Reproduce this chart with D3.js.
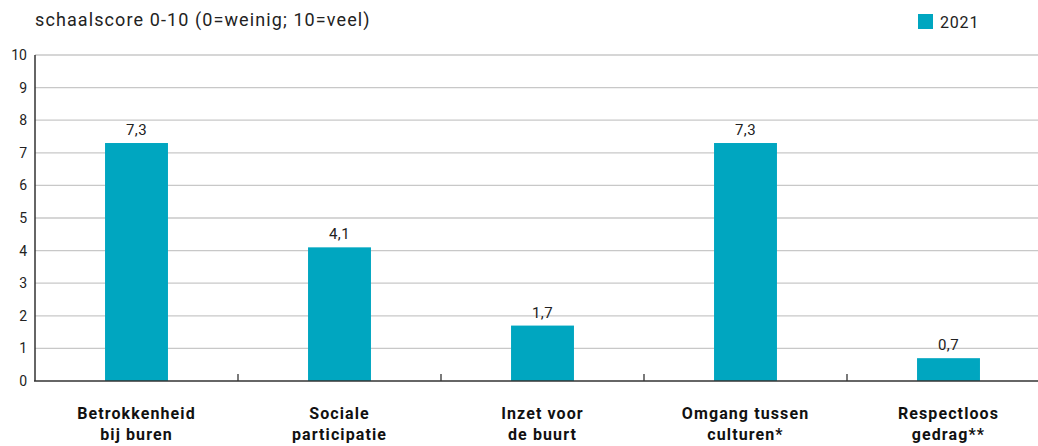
<!DOCTYPE html>
<html>
<head>
<meta charset="utf-8">
<script src="https://cdn.jsdelivr.net/npm/d3@7"></script>
<style>
body { margin: 0; background: #fff; }
svg { font-family: Roboto, "Liberation Sans", sans-serif; }
.grid line { stroke: #c8c8c8; stroke-width: 1.3; }
</style>
</head>
<body>
<svg width="1038" height="446"></svg>
<script>
const categories = [["Betrokkenheid", "bij buren"], ["Sociale", "participatie"], ["Inzet voor", "de buurt"], ["Omgang tussen", "culturen*"], ["Respectloos", "gedrag**"]];
const values2021 = [7.3, 4.1, 1.7, 7.3, 0.7];
const yTicks = [0, 1, 2, 3, 4, 5, 6, 7, 8, 9, 10];

const svg = d3.select("svg");
const color = "#00a6c0";

const x = d3.scaleBand().domain(d3.range(categories.length)).range([35, 1050]).paddingInner(0.69).paddingOuter(0.345);
const y = d3.scaleLinear().domain([0, 10]).range([381, 55]);

// grid
svg.append("g").attr("class", "grid")
	.selectAll("line").data(yTicks.filter(d => d > 0)).enter()
	.append("line")
	.attr("x1", 35).attr("x2", 1038)
	.attr("y1", d => y(d)).attr("y2", d => y(d));

// y labels
svg.append("g").selectAll("text").data(yTicks).enter()
	.append("text")
	.attr("x", 27).attr("y", d => y(d) + 5)
	.attr("text-anchor", "end")
	.attr("font-size", 14).attr("fill", "#222")
	.text(d => d);

// bars
svg.append("g").selectAll("rect").data(values2021).enter()
	.append("rect")
	.attr("x", (d, i) => x(i))
	.attr("width", x.bandwidth())
	.attr("y", d => y(d))
	.attr("height", d => y(0) - y(d))
	.attr("fill", color);

// value labels
svg.append("g").selectAll("text").data(values2021).enter()
	.append("text")
	.attr("x", (d, i) => x(i) + x.bandwidth() / 2)
	.attr("y", d => y(d) - 8)
	.attr("text-anchor", "middle")
	.attr("font-size", 15).attr("letter-spacing", 0.4).attr("fill", "#222")
	.text(d => d3.format(".1f")(d).replace(".", ","));

// axes lines
svg.append("line").attr("x1", 35).attr("x2", 35).attr("y1", y(10)).attr("y2", y(0))
	.attr("stroke", "#333").attr("stroke-width", 1.5);
svg.append("line").attr("x1", 34).attr("x2", 1038).attr("y1", y(0)).attr("y2", y(0))
	.attr("stroke", "#333").attr("stroke-width", 1.5);

// category separators
const step = x.step();
svg.append("g").selectAll("line").data(d3.range(1, categories.length)).enter()
	.append("line")
	.attr("x1", i => x(i) - (step - x.bandwidth()) / 2)
	.attr("x2", i => x(i) - (step - x.bandwidth()) / 2)
	.attr("y1", y(0) - 7).attr("y2", y(0))
	.attr("stroke", "#333").attr("stroke-width", 1.3);

// category labels
const cat = svg.append("g").selectAll("text").data(categories).enter()
	.append("text")
	.attr("x", (d, i) => x(i) + x.bandwidth() / 2)
	.attr("y", 419)
	.attr("text-anchor", "middle")
	.attr("font-size", 16).attr("letter-spacing", 1.1).attr("font-weight", "bold").attr("fill", "#111");
cat.selectAll("tspan").data(d => d).enter()
	.append("tspan")
	.attr("x", function() { return this.parentNode.getAttribute("x"); })
	.attr("dy", (d, i) => i == 0 ? 0 : 21)
	.text(d => d);

// title
svg.append("text").attr("x", 35).attr("y", 26)
	.attr("font-size", 18).attr("letter-spacing", 1.1).attr("fill", "#222")
	.text("schaalscore 0-10 (0=weinig; 10=veel)");

// legend
svg.append("rect").attr("x", 918).attr("y", 14).attr("width", 15).attr("height", 15).attr("fill", color);
svg.append("text").attr("x", 940).attr("y", 28).attr("font-size", 16).attr("letter-spacing", 0.8).attr("fill", "#222").text("2021");
</script>
</body>
</html>
